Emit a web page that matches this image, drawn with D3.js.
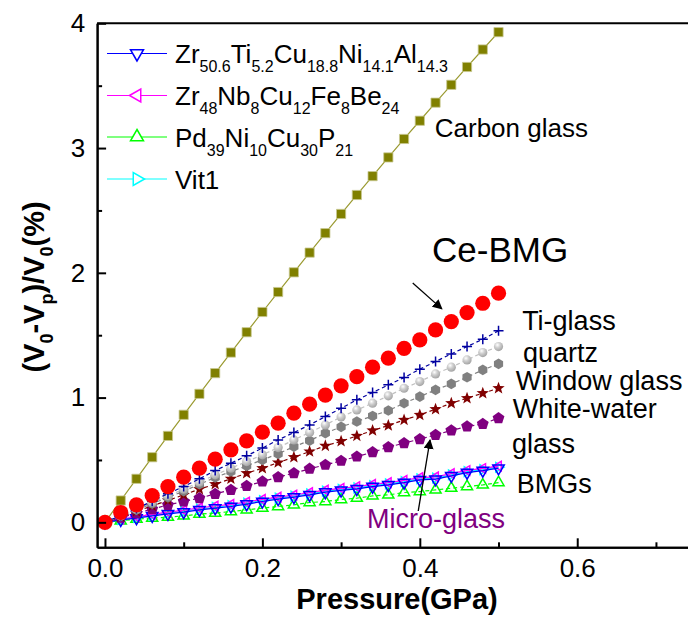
<!DOCTYPE html>
<meta charset="utf-8">
<style>
    body { margin: 0; background: #fff; }
    svg { display: block; }
    text { font-family: Arial, "Liberation Sans", sans-serif; fill: #000; }
    .axis path, .axis line { stroke: #000; stroke-width: 2px; fill: none; }
    .axis text { font-size: 26px; font-family: Arial, "Liberation Sans", sans-serif; }
    .title { font-size: 29px; font-weight: bold; }
    .note { font-size: 27px; }
</style>
<body>
<svg></svg>

<script src="https://d3js.org/d3.v7.min.js"></script>
<script type='text/javascript'>

    // pressure (GPa) shared by every series
    var pressure = [0, 0.02, 0.04, 0.06, 0.08, 0.10, 0.12, 0.14, 0.16, 0.18, 0.20, 0.22, 0.24,
                    0.26, 0.28, 0.30, 0.32, 0.34, 0.36, 0.38, 0.40, 0.42, 0.44, 0.46, 0.48, 0.50];

    var carbonGlass = [0, 0.175, 0.349, 0.522, 0.693, 0.862, 1.030, 1.196, 1.361, 1.524, 1.686, 1.846, 2.004,
                       2.162, 2.318, 2.472, 2.624, 2.775, 2.925, 3.073, 3.219, 3.364, 3.507, 3.650, 3.790, 3.929];
    var ceBMG = [0, 0.079, 0.140, 0.215, 0.287, 0.362, 0.434, 0.506, 0.581, 0.653, 0.723, 0.795, 0.875,
                 0.947, 1.020, 1.094, 1.168, 1.244, 1.316, 1.395, 1.462, 1.542, 1.609, 1.681, 1.756, 1.837];
    var tiGlass = [0, 0.055, 0.110, 0.170, 0.230, 0.287, 0.349, 0.415, 0.474, 0.533, 0.595, 0.661, 0.720,
                   0.781, 0.848, 0.914, 0.982, 1.040, 1.102, 1.160, 1.228, 1.289, 1.350, 1.409, 1.468, 1.535];
    var quartz = [0, 0.050, 0.105, 0.160, 0.212, 0.266, 0.322, 0.381, 0.434, 0.487, 0.541, 0.599, 0.661,
                  0.720, 0.781, 0.845, 0.901, 0.955, 1.014, 1.075, 1.128, 1.190, 1.244, 1.302, 1.361, 1.409];
    var windowGlass = [0, 0.050, 0.100, 0.150, 0.200, 0.250, 0.305, 0.360, 0.407, 0.453, 0.501, 0.549, 0.607,
                       0.655, 0.715, 0.765, 0.808, 0.853, 0.896, 0.955, 1.008, 1.062, 1.110, 1.163, 1.222, 1.270];
    var whiteWater = [0, 0.044, 0.088, 0.132, 0.176, 0.220, 0.266, 0.306, 0.349, 0.394, 0.434, 0.479, 0.522,
                      0.567, 0.613, 0.650, 0.693, 0.736, 0.776, 0.821, 0.861, 0.907, 0.955, 0.995, 1.035, 1.075];
    var microGlass = [0, 0.037, 0.074, 0.106, 0.140, 0.167, 0.194, 0.228, 0.260, 0.292, 0.327, 0.362, 0.394,
                      0.429, 0.461, 0.493, 0.527, 0.562, 0.603, 0.635, 0.667, 0.701, 0.736, 0.768, 0.789, 0.835];
    var zrTi = [0, 0.020, 0.034, 0.052, 0.068, 0.082, 0.100, 0.114, 0.127, 0.146, 0.167, 0.186, 0.202,
                0.220, 0.242, 0.256, 0.268, 0.287, 0.300, 0.319, 0.341, 0.346, 0.373, 0.399, 0.415, 0.434];
    var zrNb = [0, 0.027, 0.045, 0.064, 0.082, 0.097, 0.116, 0.131, 0.144, 0.163, 0.184, 0.202, 0.219,
                0.238, 0.259, 0.273, 0.286, 0.304, 0.318, 0.337, 0.358, 0.365, 0.391, 0.416, 0.432, 0.451];
    var pdNi = [0, 0.013, 0.026, 0.034, 0.042, 0.052, 0.066, 0.074, 0.087, 0.100, 0.114, 0.127, 0.140,
                0.159, 0.167, 0.183, 0.194, 0.212, 0.220, 0.239, 0.247, 0.260, 0.274, 0.287, 0.300, 0.319];
    var vit1 = [0, 0.024, 0.040, 0.058, 0.075, 0.089, 0.107, 0.121, 0.135, 0.154, 0.175, 0.194, 0.210,
                0.228, 0.250, 0.264, 0.276, 0.295, 0.308, 0.327, 0.349, 0.355, 0.381, 0.407, 0.423, 0.442];

    var xMajor = [0, 0.2, 0.4, 0.6],
        xMinor = [0.1, 0.3, 0.5, 0.7],
        yMajor = [0, 1, 2, 3, 4],
        yMinor = [0.5, 1.5, 2.5, 3.5];

    // legend labels: [text, subscript, text, subscript, ...]
    var legendLabels = [
        ['Zr', '50.6', 'Ti', '5.2', 'Cu', '18.8', 'Ni', '14.1', 'Al', '14.3'],
        ['Zr', '48', 'Nb', '8', 'Cu', '12', 'Fe', '8', 'Be', '24'],
        ['Pd', '39', 'Ni', '10', 'Cu', '30', 'P', '21'],
        ['Vit1']
    ];

    var W = 688, H = 619;
    var x = d3.scaleLinear().domain([-0.01, 0.75]).range([97.1, 695.3]);
    var y = d3.scaleLinear().domain([-0.2, 4]).range([547.3, 23.3]);

    var svg = d3.select('svg')
        .attr('width', W)
        .attr('height', H);

    var defs = svg.append('defs');
    var grad = defs.append('radialGradient')
        .attr('id', 'sphere')
        .attr('cx', '38%').attr('cy', '32%').attr('r', '65%');
    grad.append('stop').attr('offset', '0%').attr('stop-color', '#ffffff');
    grad.append('stop').attr('offset', '45%').attr('stop-color', '#d0d0d0');
    grad.append('stop').attr('offset', '100%').attr('stop-color', '#a8a8a8');

    function polygon(n, r, rot) {
        var pts = [];
        for (var k = 0; k < n; k++) {
            var a = (rot + k * 360 / n) * Math.PI / 180;
            pts.push([r * Math.sin(a), -r * Math.cos(a)]);
        }
        return 'M' + pts.map(function(p) { return p[0].toFixed(2) + ',' + p[1].toFixed(2); }).join('L') + 'Z';
    }
    function star(ro, ri) {
        var pts = [];
        for (var k = 0; k < 10; k++) {
            var a = k * Math.PI / 5, r = k % 2 ? ri : ro;
            pts.push([r * Math.sin(a), -r * Math.cos(a)]);
        }
        return 'M' + pts.map(function(p) { return p[0].toFixed(2) + ',' + p[1].toFixed(2); }).join('L') + 'Z';
    }

    var shapes = {
        square: 'M-4.6,-4.6H4.6V4.6H-4.6Z',
        plus: 'M-5,0H5M0,-5V5',
        hex: polygon(6, 5.3, 0),
        pent: polygon(5, 6.2, 0),
        star: star(6.5, 2.7),
        triDown: polygon(3, 6.6, 180),
        triLeft: polygon(3, 5.5, -90),
        triUp: polygon(3, 6.4, 0),
        triRight: polygon(3, 5.5, 90)
    };

    var series = [
        {values: pdNi, shape: 'triUp', line: '#00ff00', dash: '4,3', fill: 'none', stroke: '#00ff00'},
        {values: vit1, shape: 'triRight', line: '#00ffff', dash: null, fill: 'none', stroke: '#00ffff'},
        {values: zrNb, shape: 'triLeft', line: '#ff00ff', dash: null, fill: 'none', stroke: '#ff00ff'},
        {values: zrTi, shape: 'triDown', line: '#0000ff', dash: null, fill: 'none', stroke: '#0000ff'},
        {values: microGlass, shape: 'pent', line: '#800080', dash: '4,3', fill: '#800080', stroke: 'none'},
        {values: whiteWater, shape: 'star', line: '#800000', dash: '4,3', fill: '#800000', stroke: 'none'},
        {values: windowGlass, shape: 'hex', line: '#808080', dash: '4,3', fill: '#808080', stroke: 'none'},
        {values: quartz, shape: 'sphere', line: '#c0c0c0', dash: '4,3', fill: 'url(#sphere)', stroke: 'none'},
        {values: tiGlass, shape: 'plus', line: '#0000a0', dash: '4,3', fill: 'none', stroke: '#0000a0'},
        {values: carbonGlass, shape: 'square', line: '#9a9a30', dash: null, fill: '#808000', stroke: '#c8c890'},
        {values: ceBMG, shape: 'circle', line: null, dash: null, fill: '#ff0000', stroke: 'none'}
    ];

    var line = d3.line()
        .x(function(d, i) { return x(pressure[i]); })
        .y(function(d) { return y(d); });

    var plot = svg.append('g').attr('id', 'plot');

    series.forEach(function(s) {
        var g = plot.append('g');
        if (s.line) {
            g.append('path')
                .datum(s.values)
                .attr('d', line)
                .attr('fill', 'none')
                .attr('stroke', s.line)
                .attr('stroke-width', 1.2)
                .attr('stroke-dasharray', s.dash);
        }
        var pts = g.selectAll('.pt')
            .data(s.values)
            .enter();
        if (s.shape === 'circle' || s.shape === 'sphere') {
            pts.append('circle')
                .attr('cx', function(d, i) { return x(pressure[i]); })
                .attr('cy', function(d) { return y(d); })
                .attr('r', s.shape === 'circle' ? 7.6 : 4.6)
                .attr('fill', s.fill);
        } else {
            pts.append('path')
                .attr('d', shapes[s.shape])
                .attr('transform', function(d, i) { return 'translate(' + x(pressure[i]) + ',' + y(d) + ')'; })
                .attr('fill', s.fill)
                .attr('stroke', s.stroke)
                .attr('stroke-width', s.shape === 'square' ? 0.8 : 1.5);
        }
    });

    // axes
    var xAxis = d3.axisBottom(x).tickValues(xMajor).tickFormat(d3.format('.1f'))
        .tickSizeInner(-9).tickSizeOuter(0).tickPadding(11);
    var xAxisMinor = d3.axisBottom(x).tickValues(xMinor).tickFormat('')
        .tickSizeInner(-5).tickSizeOuter(0);
    var yAxis = d3.axisLeft(y).tickValues(yMajor).tickFormat(d3.format('d'))
        .tickSizeInner(-9).tickSizeOuter(0).tickPadding(12);
    var yAxisMinor = d3.axisLeft(y).tickValues(yMinor).tickFormat('')
        .tickSizeInner(-5).tickSizeOuter(0);

    svg.append('g').attr('class', 'x axis')
        .attr('transform', 'translate(0,' + y(-0.2) + ')').call(xAxis);
    svg.append('g').attr('class', 'x axis')
        .attr('transform', 'translate(0,' + y(-0.2) + ')').call(xAxisMinor);
    svg.append('g').attr('class', 'y axis')
        .attr('transform', 'translate(' + x(-0.01) + ',0)').call(yAxis);
    svg.append('g').attr('class', 'y axis')
        .attr('transform', 'translate(' + x(-0.01) + ',0)').call(yAxisMinor);
    svg.selectAll('.axis text').attr('fill', '#000').attr('stroke', 'none');

    svg.append('line')
        .attr('x1', x(-0.01)).attr('x2', W)
        .attr('y1', y(4)).attr('y2', y(4))
        .attr('stroke', '#000').attr('stroke-width', 2);

    // axis titles
    svg.append('text')
        .attr('class', 'title')
        .attr('x', 397).attr('y', 609)
        .attr('text-anchor', 'middle')
        .text('Pressure(GPa)');

    var yTitleParts = [['(V', false], ['0', true], ['-V', false], ['p', true], [')/V', false], ['0', true], ['(%)', false]];
    var yTitle = svg.append('text')
        .attr('class', 'title')
        .attr('text-anchor', 'middle')
        .attr('transform', 'translate(44,287)rotate(-90)');
    yTitleParts.forEach(function(p, i) {
        var prevSub = i > 0 && yTitleParts[i - 1][1];
        yTitle.append('tspan')
            .attr('dy', p[1] ? 9 : (prevSub ? -9 : 0))
            .style('font-size', p[1] ? '18px' : '29px')
            .text(p[0]);
    });

    // legend
    var legendColors = ['#0000ff', '#ff00ff', '#00ff00', '#00ffff'],
        legendShapes = ['triDown', 'triLeft', 'triUp', 'triRight'],
        legendY = [53.5, 95.5, 137, 179];

    var legend = svg.append('g').attr('class', 'legend');
    legendLabels.forEach(function(parts, i) {
        var row = legend.append('g').attr('transform', 'translate(0,' + legendY[i] + ')');
        row.append('line')
            .attr('x1', 107).attr('x2', 167)
            .attr('stroke', legendColors[i]).attr('stroke-width', 1.2);
        row.append('path')
            .attr('d', polygon(3, 7.5, [180, -90, 0, 90][i]))
            .attr('transform', 'translate(137,0)')
            .attr('fill', '#fff')
            .attr('stroke', legendColors[i])
            .attr('stroke-width', 1.5);
        var t = row.append('text')
            .attr('x', 175).attr('y', 9.5)
            .style('font-size', '26px');
        parts.forEach(function(p, j) {
            t.append('tspan')
                .attr('dy', j === 0 ? 0 : (j % 2 ? 9 : -9))
                .style('font-size', j % 2 ? '16px' : '26px')
                .text(p);
        });
    });

    // annotations, placed in data units
    var notes = [
        {text: 'Carbon glass', px: 0.419, py: 3.092, size: 26, color: '#000'},
        {text: 'Ce-BMG', px: 0.4155, py: 2.087, size: 35, color: '#000'},
        {text: 'Ti-glass', px: 0.530, py: 1.542, size: 27, color: '#000'},
        {text: 'quartz', px: 0.531, py: 1.285, size: 27, color: '#000'},
        {text: 'Window glass', px: 0.522, py: 1.061, size: 27, color: '#000'},
        {text: 'White-water', px: 0.518, py: 0.837, size: 27, color: '#000'},
        {text: 'glass', px: 0.517, py: 0.556, size: 27, color: '#000'},
        {text: 'BMGs', px: 0.523, py: 0.236, size: 27, color: '#000'},
        {text: 'Micro-glass', px: 0.333, py: -0.045, size: 27, color: '#800080'}
    ];
    svg.selectAll('.note')
        .data(notes)
        .enter().append('text')
        .attr('class', 'note')
        .attr('x', function(d) { return x(d.px); })
        .attr('y', function(d) { return y(d.py); })
        .style('font-size', function(d) { return d.size + 'px'; })
        .style('fill', function(d) { return d.color; })
        .text(function(d) { return d.text; });

    defs.append('marker')
        .attr('id', 'head')
        .attr('viewBox', '0 0 10 10')
        .attr('refX', 9).attr('refY', 5)
        .attr('markerWidth', 10).attr('markerHeight', 10)
        .attr('markerUnits', 'userSpaceOnUse')
        .attr('orient', 'auto')
        .append('path')
        .attr('d', 'M0,0L10,5L0,10Z')
        .attr('fill', '#000');

    var arrows = [
        {x1: 0.391, y1: 1.919, x2: 0.428, y2: 1.711},
        {x1: 0.398, y1: 0.091, x2: 0.413, y2: 0.661}
    ];
    svg.selectAll('.arrow')
        .data(arrows)
        .enter().append('line')
        .attr('class', 'arrow')
        .attr('x1', function(d) { return x(d.x1); })
        .attr('y1', function(d) { return y(d.y1); })
        .attr('x2', function(d) { return x(d.x2); })
        .attr('y2', function(d) { return y(d.y2); })
        .attr('stroke', '#000')
        .attr('stroke-width', 1.3)
        .attr('marker-end', 'url(#head)');

</script>
